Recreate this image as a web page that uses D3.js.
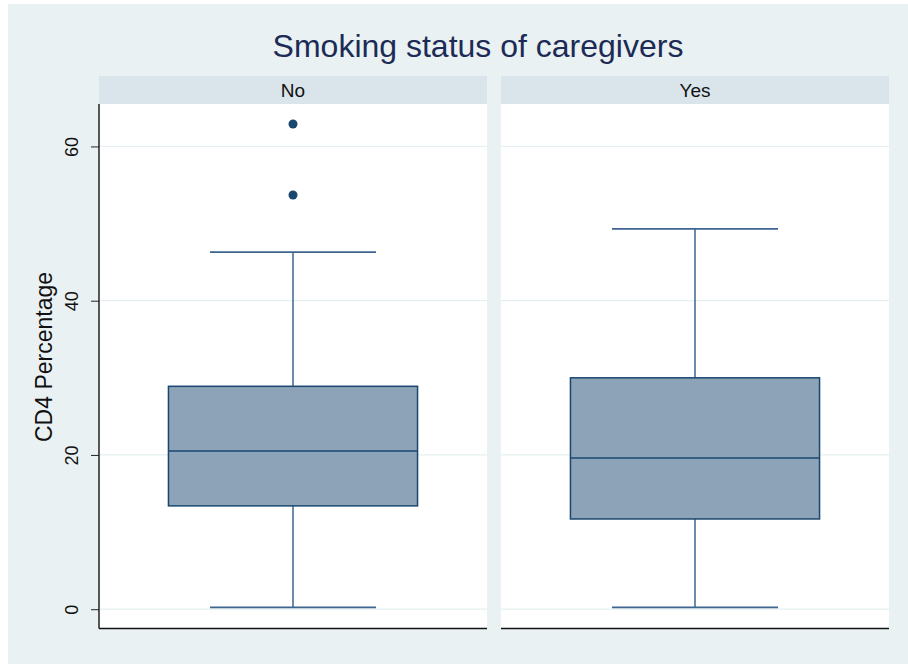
<!DOCTYPE html>
<html>
<head>
<meta charset="utf-8">
<script src="https://cdn.jsdelivr.net/npm/d3@7"></script>
<style>
  body { margin: 0; background: #fff; }
  svg text { font-family: "Liberation Sans", Arial, sans-serif; }
</style>
</head>
<body>
<div id="chart"></div>
<script>
var W = 908, H = 664;

// data
var groups = ["No", "Yes"];
var lowWhisker = [0.25, 0.25];
var q1 = [13.4, 11.7];
var median = [20.5, 19.6];
var q3 = [28.9, 30.0];
var highWhisker = [46.3, 49.3];
var outliers = [[53.7, 62.9], []];
var yTicks = [0, 20, 40, 60];

var svg = d3.select("#chart").append("svg")
  .attr("width", W)
  .attr("height", H);

// outer background
svg.append("rect").attr("x", 8).attr("y", 4).attr("width", W - 8).attr("height", H - 4)
  .attr("fill", "#eaf1f3");

svg.append("text")
  .attr("x", 478).attr("y", 57)
  .attr("text-anchor", "middle")
  .attr("font-size", 32)
  .attr("fill", "#1c2b55")
  .text("Smoking status of caregivers");

var x = d3.scaleBand().domain(groups).range([99, 889]).paddingInner(0.0348).paddingOuter(0);
var y = d3.scaleLinear().domain([-2.5, 65.5]).range([628.5, 104]);

var bw = x.bandwidth();

var panels = svg.selectAll("g.panel").data(groups).enter().append("g")
  .attr("class", "panel")
  .attr("transform", function(d) { return "translate(" + x(d) + ",0)"; });

// header strip
panels.append("rect")
  .attr("x", 0).attr("y", 76).attr("width", bw).attr("height", 28)
  .attr("fill", "#d9e5eb");
panels.append("text")
  .attr("x", bw / 2).attr("y", 97)
  .attr("text-anchor", "middle")
  .attr("font-size", 19)
  .attr("fill", "#111")
  .text(function(d) { return d; });

// plot region
panels.append("rect")
  .attr("x", 0).attr("y", y(65.5)).attr("width", bw).attr("height", y(-2.5) - y(65.5))
  .attr("fill", "#fff");

// gridlines
panels.selectAll("line.grid").data(yTicks).enter().append("line")
  .attr("class", "grid")
  .attr("x1", 0).attr("x2", bw)
  .attr("y1", function(d) { return y(d); }).attr("y2", function(d) { return y(d); })
  .attr("stroke", "#e6eff2").attr("stroke-width", 1.2);

// bottom axis line
panels.append("line")
  .attr("x1", 0).attr("x2", bw)
  .attr("y1", y(-2.5)).attr("y2", y(-2.5))
  .attr("stroke", "#111").attr("stroke-width", 1.5);

var boxW = bw * 0.642, capW = bw * 0.428;

panels.each(function(d, i) {
  var g = d3.select(this), cx = bw / 2;

  // whiskers
  g.append("line")
    .attr("x1", cx).attr("x2", cx)
    .attr("y1", y(q3[i])).attr("y2", y(highWhisker[i]))
    .attr("stroke", "#3d6590").attr("stroke-width", 1.5);
  g.append("line")
    .attr("x1", cx).attr("x2", cx)
    .attr("y1", y(q1[i])).attr("y2", y(lowWhisker[i]))
    .attr("stroke", "#3d6590").attr("stroke-width", 1.5);
  [lowWhisker[i], highWhisker[i]].forEach(function(v) {
    g.append("line")
      .attr("x1", cx - capW / 2).attr("x2", cx + capW / 2)
      .attr("y1", y(v)).attr("y2", y(v))
      .attr("stroke", "#3d6590").attr("stroke-width", 1.8);
  });

  // box
  g.append("rect")
    .attr("x", cx - boxW / 2).attr("width", boxW)
    .attr("y", y(q3[i])).attr("height", y(q1[i]) - y(q3[i]))
    .attr("fill", "#8ca3b8")
    .attr("stroke", "#1a476f").attr("stroke-width", 1.5);
  g.append("line")
    .attr("x1", cx - boxW / 2).attr("x2", cx + boxW / 2)
    .attr("y1", y(median[i])).attr("y2", y(median[i]))
    .attr("stroke", "#1a476f").attr("stroke-width", 1.5);

  // outside values
  g.selectAll("circle").data(outliers[i]).enter().append("circle")
    .attr("cx", cx).attr("cy", function(v) { return y(v); })
    .attr("r", 4.5)
    .attr("fill", "#1a476f");
});

// left axis (labels redrawn rotated)
var yAxis = d3.axisLeft(y).tickValues(yTicks).tickSize(8).tickFormat("");
var ag = svg.append("g").attr("transform", "translate(" + x("No") + ",0)").call(yAxis);
ag.select(".domain").attr("stroke", "#222").attr("stroke-width", 1.5)
  .attr("d", "M0," + y(65.5) + "V" + y(-2.5));
ag.selectAll(".tick line").attr("stroke", "#222");
ag.selectAll(".tick").append("text")
  .attr("transform", "translate(-21,0) rotate(-90)")
  .attr("text-anchor", "middle")
  .attr("font-size", 18)
  .attr("fill", "#111")
  .text(function(d) { return d; });

svg.append("text")
  .attr("transform", "translate(52,357) rotate(-90)")
  .attr("text-anchor", "middle")
  .attr("font-size", 23)
  .attr("fill", "#111")
  .text("CD4 Percentage");
</script>
</body>
</html>
